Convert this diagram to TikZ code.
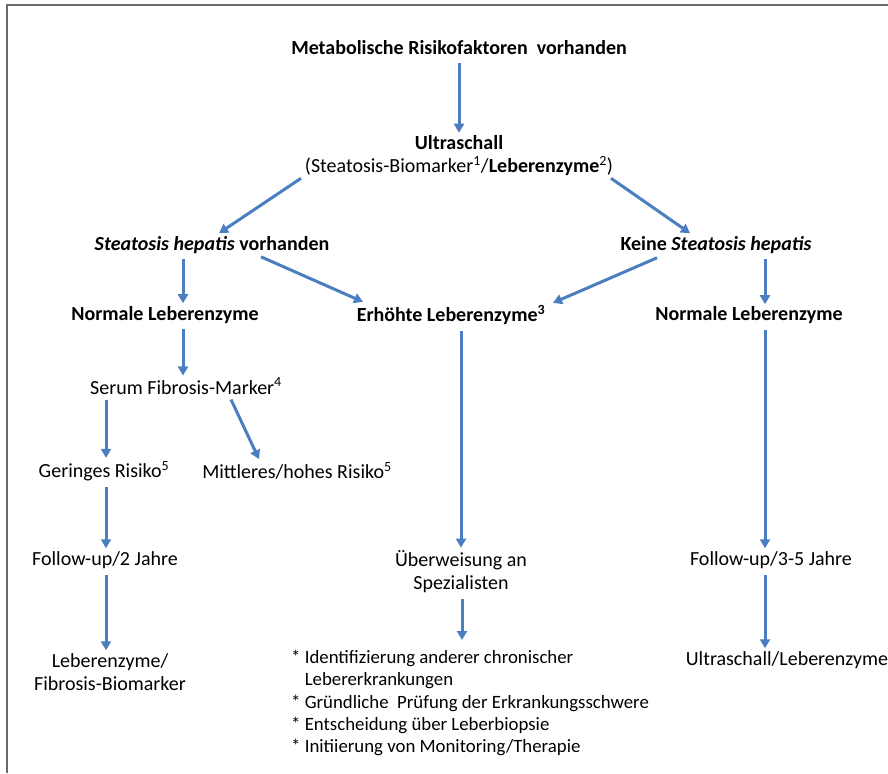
\documentclass[tikz,border=0pt]{standalone}
\usepackage{fontspec}
\setmainfont{Carlito}
\usepackage{tikz}
\usetikzlibrary{arrows.meta,positioning}

\definecolor{arrowblue}{RGB}{74,126,193}
\definecolor{framegray}{RGB}{105,105,105}

\begin{document}
\begin{tikzpicture}[x=1pt,y=-1pt]
			\tikzstyle{Txt}		= [inner sep=0pt, align=center, font=\fontsize{20}{23}\selectfont]
			\tikzstyle{Head}	= [Txt, font=\fontsize{20}{23}\selectfont\bfseries]
			\tikzstyle{List}	= [inner sep=0pt, align=left, anchor=north west, font=\fontsize{18.8}{22.3}\selectfont]
			\tikzstyle{Flow}	= [-{Triangle[width=10pt,length=9pt]}, line width=3pt, arrowblue]
			\tikzstyle{Frame}	= [line width=2pt, framegray]

			\useasboundingbox (0,0) rectangle (888,773);
			\draw [Frame] (7,773) -- (7,5) -- (888,5);

			% top part
			\node (meta) at (459,48) [Head] {Metabolische Risikofaktoren\ \ vorhanden};
			\node (ultra) at (459,156) [Txt] {\textbf{Ultraschall}\\(Steatosis-Biomarker\textsuperscript{1}/\textbf{Leberenzyme}\textsuperscript{2})};
			\node (sh) at (212,245) [Head] {\textit{Steatosis hepatis} vorhanden};
			\node (keine) at (716,245) [Head] {Keine \textit{Steatosis hepatis}};

			% second row
			\node (norm1) at (165,315) [Head] {Normale Leberenzyme};
			\node (erh) at (451,315) [Head] {Erhöhte Leberenzyme\textsuperscript{3}};
			\node (norm2) at (749,315) [Head] {Normale Leberenzyme};

			% left branch
			\node (serum) at (186,386) [Txt] {Serum Fibrosis-Marker\textsuperscript{4}};
			\node (gering) at (104,471) [Txt] {Geringes Risiko\textsuperscript{5}};
			\node (mittel) at (297,471) [Txt] {Mittleres/hohes Risiko\textsuperscript{5}};
			\node (fu2) at (105,560) [Txt] {Follow-up/2 Jahre};
			\node (leb) at (110,672) [Txt] {Leberenzyme/\\Fibrosis-Biomarker};

			% middle and right branch
			\node (ueber) at (461,572) [Txt] {Überweisung an\\Spezialisten};
			\node (todo) at (291,650) [List] {* Identifizierung anderer chronischer\\\phantom{* }Lebererkrankungen\\* Gründliche\ \ Prüfung der Erkrankungsschwere\\* Entscheidung über Leberbiopsie\\* Initiierung von Monitoring/Therapie};
			\node (fu35) at (771,560) [Txt] {Follow-up/3-5 Jahre};
			\node (us) at (787,660) [Txt] {Ultraschall/Leberenzyme};

			\draw [Flow] ([yshift=-8]meta.south) to ([yshift=3]ultra.north);
			\draw [Flow] ([xshift=-158,yshift=-2]ultra.south) to ([xshift=7,yshift=3]sh.north);
			\draw [Flow] ([xshift=152,yshift=-2]ultra.south) to ([xshift=-26,yshift=3]keine.north);
			\draw [Flow] ([xshift=-29,yshift=-5]sh.south) to ([xshift=18,yshift=3]norm1.north);
			\draw [Flow] ([xshift=49,yshift=-3]sh.south) to ([xshift=-88,yshift=3]erh.north);
			\draw [Flow] ([xshift=-59,yshift=-4]keine.south) to ([xshift=102,yshift=2]erh.north);
			\draw [Flow] ([xshift=49,yshift=-5]keine.south) to ([xshift=16,yshift=2]norm2.north);
			\draw [Flow] ([xshift=18,yshift=-5]norm1.south) to ([xshift=-3,yshift=2]serum.north);
			\draw [Flow] ([xshift=10,yshift=-6]erh.south) to ([yshift=3]ueber.north);
			\draw [Flow] ([xshift=16,yshift=-6]norm2.south) to ([xshift=-6,yshift=3]fu35.north);
			\draw [Flow] ([xshift=-80,yshift=-5]serum.south) to ([xshift=2,yshift=3]gering.north);
			\draw [Flow] ([xshift=45,yshift=-5]serum.south) to ([xshift=-38,yshift=3]mittel.north);
			\draw [Flow] ([xshift=2,yshift=-6]gering.south) to ([xshift=1,yshift=3]fu2.north);
			\draw [Flow] ([xshift=1,yshift=-6]fu2.south) to ([xshift=-4,yshift=3]leb.north);
			\draw [Flow] ([xshift=1,yshift=-6]ueber.south) to ([xshift=171,yshift=10]todo.north west);
			\draw [Flow] ([xshift=-6,yshift=-6]fu35.south) to ([xshift=-22,yshift=3]us.north);
		\end{tikzpicture}
\end{document}
